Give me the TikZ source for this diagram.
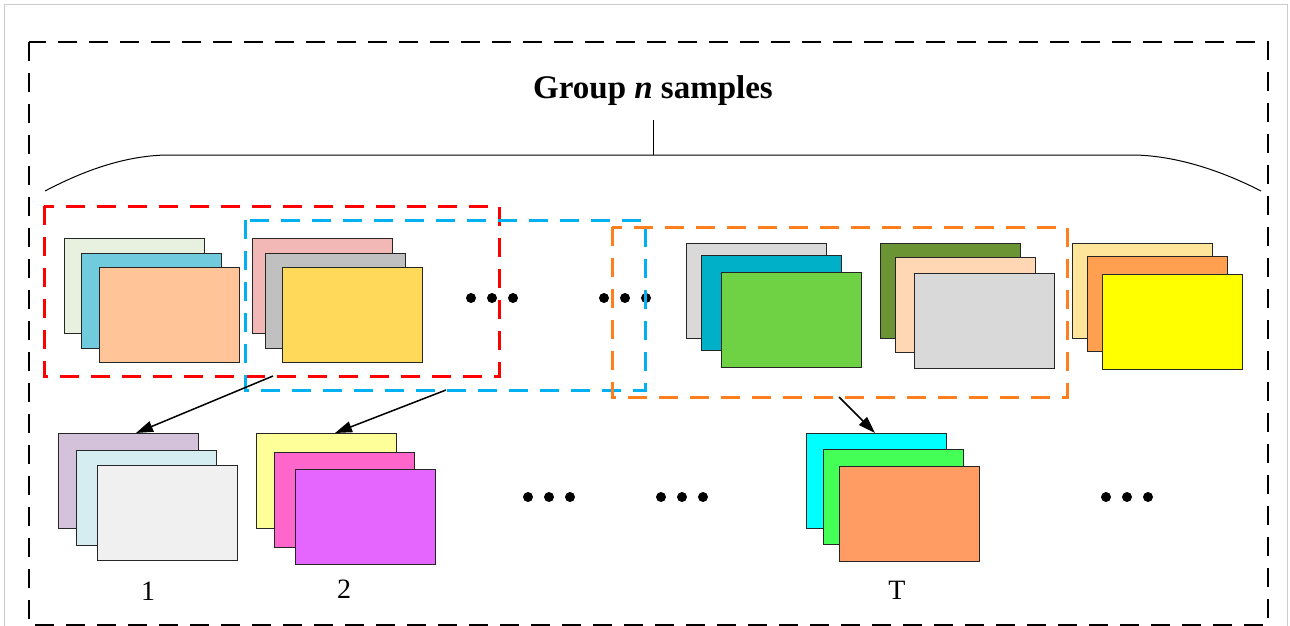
\documentclass[tikz,border=0pt]{standalone}
\usepackage{fontspec}
\setmainfont{Liberation Serif}
\usetikzlibrary{arrows.meta,calc}
\definecolor{cA1}{HTML}{E8F0E0}\definecolor{cA2}{HTML}{70CBDC}\definecolor{cA3}{HTML}{FFC599}
\definecolor{cB1}{HTML}{F2B8B5}\definecolor{cB2}{HTML}{C0C0C0}\definecolor{cB3}{HTML}{FFD95A}
\definecolor{cC1}{HTML}{D9D9D9}\definecolor{cC2}{HTML}{00B0C8}\definecolor{cC3}{HTML}{6FD244}
\definecolor{cD1}{HTML}{6B9535}\definecolor{cD2}{HTML}{FFD7B5}\definecolor{cD3}{HTML}{D9D9D9}
\definecolor{cE1}{HTML}{FFE599}\definecolor{cE2}{HTML}{FFA050}\definecolor{cE3}{HTML}{FFFF00}
\definecolor{cF1}{HTML}{D4C1DA}\definecolor{cF2}{HTML}{D5ECF0}\definecolor{cF3}{HTML}{F0F0F0}
\definecolor{cG1}{HTML}{FFFF99}\definecolor{cG2}{HTML}{FF66CC}\definecolor{cG3}{HTML}{E566FF}
\definecolor{cH1}{HTML}{00FFFF}\definecolor{cH2}{HTML}{44FF55}\definecolor{cH3}{HTML}{FF9C64}
\definecolor{dred}{HTML}{FF0000}\definecolor{dblue}{HTML}{00B0F0}\definecolor{dorange}{HTML}{FF7F1F}
\begin{document}
\begin{tikzpicture}[x=1pt,y=-1pt,
  card/.style={draw=black!85,line width=1pt,minimum width=140pt,minimum height=95pt,anchor=north west,inner sep=0pt,outer sep=0pt},
  grpbox/.style={line width=3pt,dash pattern=on 19pt off 12pt,fill=none},
  arr/.style={line width=1.5pt,-{Triangle[length=17pt,width=11pt]}},
  lbl/.style={font=\fontsize{28}{32}\selectfont},
  dot/.style={circle,fill=black,inner sep=0pt,minimum size=10pt}]
\useasboundingbox (0,0) rectangle (1290,626);
\fill[white] (0,0) rectangle (1290,626);
\draw[black!20,line width=1pt] (4,5) rectangle (1287,660);
\draw[black,line width=1.4pt,dash pattern=on 19pt off 12pt] (29,42) rectangle (1268,625);
% title and brace
\node[font=\fontsize{33}{38}\selectfont\bfseries] (title) at (653,91) {Group \textit{n} samples};
\coordinate (bt) at (653,120);
\coordinate (bm) at (653,155);
\draw[line width=1pt] (bt) -- (bm);
\draw[line width=1pt] (45,191) .. controls (85,170) and (125,156) .. (166,155) -- (1135,155) .. controls (1176,156) and (1220,170) .. (1261,191);
% top stacks
\node[card,fill=cA1] (a1) at (64,238) {};
\node[card,fill=cA2] (a2) at (81,253) {};
\node[card,fill=cA3] (a3) at (99,267) {};
\node[card,fill=cB1] (b1) at (252,238) {};
\node[card,fill=cB2] (b2) at (265,253) {};
\node[card,fill=cB3] (b3) at (282,267) {};
\node[card,fill=cC1] (c1) at (686,243) {};
\node[card,fill=cC2] (c2) at (701,255) {};
\node[card,fill=cC3] (c3) at (721,272) {};
\node[card,fill=cD1] (d1) at (880,243) {};
\node[card,fill=cD2] (d2) at (895,257) {};
\node[card,fill=cD3] (d3) at (914,273) {};
\node[card,fill=cE1] (e1) at (1072,243) {};
\node[card,fill=cE2] (e2) at (1087,256) {};
\node[card,fill=cE3] (e3) at (1102,274) {};
% dots top
\node[dot] (t1) at (471,298) {};\node[dot] (t2) at (492,298) {};\node[dot] (t3) at (513,298) {};
\node[dot] (t4) at (604,298) {};\node[dot] (t5) at (625,298) {};\node[dot] (t6) at (646,298) {};
% group boxes
\draw[grpbox,draw=dred] (44,206) rectangle (499,376);
\draw[grpbox,draw=dblue] (245,220) rectangle (645,390);
\draw[grpbox,draw=dorange] (612,227) rectangle (1067,397);
\coordinate (s1) at (273,376);
\coordinate (s2) at (446,390);
\coordinate (s3) at (839,397);
% bottom stacks
\node[card,fill=cF1] (f1) at (58,433) {};
\node[card,fill=cF2] (f2) at (76,450) {};
\node[card,fill=cF3] (f3) at (97,465) {};
\node[card,fill=cG1] (g1) at (256,433) {};
\node[card,fill=cG2] (g2) at (274,452) {};
\node[card,fill=cG3] (g3) at (295,469) {};
\node[card,fill=cH1] (h1) at (806,433) {};
\node[card,fill=cH2] (h2) at (823,449) {};
\node[card,fill=cH3] (h3) at (839,466) {};
% dots bottom
\node[dot] (u1) at (528,497) {};\node[dot] (u2) at (549,497) {};\node[dot] (u3) at (570,497) {};
\node[dot] (u4) at (661,497) {};\node[dot] (u5) at (682,497) {};\node[dot] (u6) at (703,497) {};
\node[dot] (u7) at (1106,497) {};\node[dot] (u8) at (1127,497) {};\node[dot] (u9) at (1148,497) {};
% arrows
\draw[arr] (s1) -- ([xshift=8pt]f1.north);
\draw[arr] (s2) -- ([xshift=9pt]g1.north);
\draw[arr] (s3) -- ([xshift=-1pt]h1.north);
% labels
\node[lbl] (l1) at (148,591) {1};
\node[lbl] (l2) at (344,589) {2};
\node[lbl] (lT) at (897,590) {T};
\end{tikzpicture}
\end{document}
